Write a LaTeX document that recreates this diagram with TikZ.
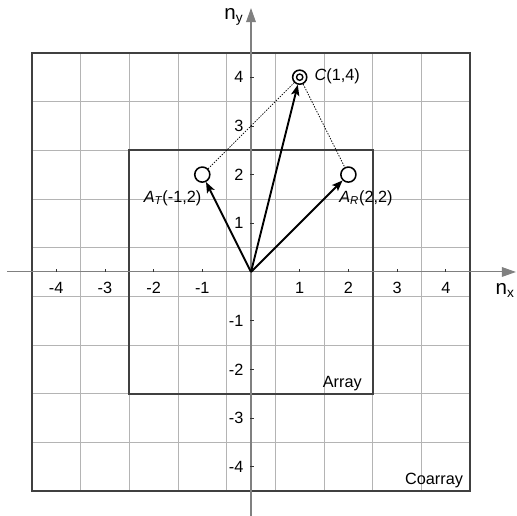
\documentclass[tikz,border=0pt]{standalone}
\usepackage{fontspec}
\setmainfont{Liberation Sans}
\usetikzlibrary{arrows.meta}
\definecolor{gridc}{HTML}{B4B4B4}
\definecolor{axisc}{HTML}{808080}
\definecolor{boxc}{HTML}{404040}
\begin{document}
\begin{tikzpicture}[x=1cm,y=1cm,
  font=\fontsize{9.5}{11}\selectfont,
  gridline/.style={draw=gridc,line width=0.5pt},
  axisline/.style={draw=axisc,line width=0.6pt,-{Triangle[length=0.29cm,width=0.2cm,fill=axisc]}},
  regionbox/.style={draw=boxc,line width=1.1pt},
  tickmark/.style={draw=black!80,line width=0.4pt},
  pt/.style={circle,draw=black,line width=0.9pt,minimum size=0.31cm,inner sep=0pt,fill=white},
  vec/.style={draw=black,line width=1.1pt,-{Stealth[length=0.22cm,width=0.17cm,inset=0.05cm]}},
  dotline/.style={draw=black,line width=0.5pt,dash pattern=on 0.8pt off 0.8pt},
  lbl/.style={inner sep=0pt},
  axlbl/.style={inner sep=0pt,font=\fontsize{12}{14}\selectfont}]
\useasboundingbox (-5.154,-5.010) rectangle (5.462,5.585);
% grid
\foreach \v in {-4.5,-3.5,...,4.6} {
  \draw[gridline] (\v,-4.5) -- (\v,4.5);
  \draw[gridline] (-4.5,\v) -- (4.5,\v);
}
% region boxes
\draw[regionbox] (-4.5,-4.5) rectangle (4.5,4.5);
\draw[regionbox] (-2.5,-2.5) rectangle (2.5,2.5);
% axes
\coordinate (xs) at (-5.0,0);
\coordinate (xe) at (5.44,0);
\coordinate (ys) at (0,-5.01);
\coordinate (ye) at (0,5.42);
\draw[axisline] (xs) -- (xe);
\draw[axisline] (ys) -- (ye);
\node[axlbl] (nx) at (5.22,-0.38) {n\textsubscript{x}};
\node[axlbl] (ny) at (-0.35,5.24) {n\textsubscript{y}};
% ticks and numbers
\foreach \k in {-4,-3,-2,-1,1,2,3,4} {
  \draw[tickmark] (\k,0) -- (\k,0.07);
  \draw[tickmark] (-0.02,\k) -- (0.07,\k);
  \node[lbl] at (\k,-0.32) {\k};
  \node[lbl,anchor=east] at (-0.15,\k) {\k};
}
% points
\coordinate (O) at (0,0);
\node[pt] (AT) at (-1,2) {};
\node[pt] (AR) at (2,2) {};
\node[pt,minimum size=0.29cm] (C) at (1,4) {};
\draw[black,line width=0.8pt] (C.center) circle (0.065);
% vectors
\draw[vec] (O) -- (AT);
\draw[vec] (O) -- (C);
\draw[vec] (O) -- (AR);
\draw[dotline] (AT) -- (C);
\draw[dotline] (C) -- (AR);
% labels
\node[lbl,anchor=west] (Cl) at (1.30,4.01) {\textit{C}(1,4)};
\node[lbl] (ATl) at (-1.61,1.52) {\textit{A\textsubscript{T}}(-1,2)};
\node[lbl] (ARl) at (2.36,1.52) {\textit{A\textsubscript{R}}(2,2)};
\node[lbl,anchor=base east] (arr) at (2.28,-2.38) {Array};
\node[lbl,anchor=base east] (coarr) at (4.36,-4.37) {Coarray};
\end{tikzpicture}
\end{document}
